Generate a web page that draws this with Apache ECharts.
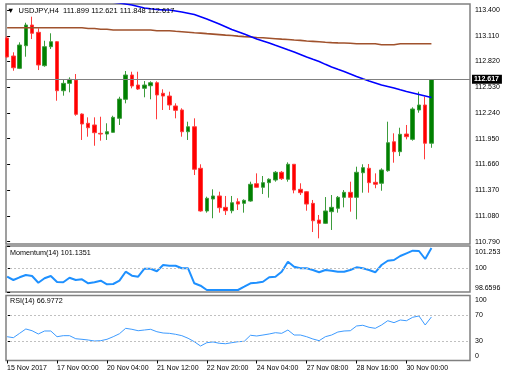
<!DOCTYPE html>
<html><head><meta charset="utf-8">
<script src="https://cdn.jsdelivr.net/npm/echarts@6/dist/echarts.min.js"></script>
<style>html,body{margin:0;padding:0;background:#fff}#c{width:526px;height:380px}</style>
</head><body><div id="c"></div>
<script>
const symbolTitle = 'USDJPY,H4';
const momentumTitle = 'Momentum(14) 101.1351';
const rsiTitle = 'RSI(14) 66.9772';

const timeTickIndex = [0, 8, 16, 24, 32, 40, 48, 56, 64];
const timeLabels = ['15 Nov 2017','17 Nov 00:00','20 Nov 04:00','21 Nov 12:00','22 Nov 20:00','24 Nov 04:00','27 Nov 08:00','28 Nov 16:00','30 Nov 00:00'];

const opens = [113.085,112.882,112.743,112.998,113.231,113.149,112.773,112.987,113.043,112.491,112.574,112.612,112.228,112.124,112.105,112.011,112.003,112.022,112.180,112.394,112.668,112.555,112.518,112.547,112.581,112.462,112.431,112.319,112.274,112.029,112.085,111.617,111.136,111.271,111.305,111.177,111.139,111.240,111.222,111.248,111.443,111.403,111.455,111.485,111.572,111.493,111.662,111.380,111.353,111.222,111.034,110.997,111.128,111.166,111.290,111.346,111.290,111.567,111.617,111.459,111.448,111.590,111.916,111.804,112.003,111.943,112.274,112.330,111.899];
const highs = [113.107,112.924,113.036,113.257,113.325,113.194,113.054,113.138,113.050,112.623,112.642,112.679,112.236,112.191,112.191,112.198,112.124,112.209,112.423,112.713,112.705,112.705,112.600,112.597,112.597,112.507,112.480,112.349,112.293,112.142,112.180,111.662,111.297,111.380,111.353,111.305,111.305,111.279,111.267,111.466,111.560,111.530,111.504,111.586,111.586,111.684,111.665,111.448,111.361,111.260,111.091,111.293,111.316,111.305,111.372,111.466,111.635,111.662,111.665,111.560,111.617,112.142,112.011,112.074,112.105,112.304,112.480,112.423,112.621];
const lows = [112.859,112.716,112.735,112.874,113.073,112.724,112.761,112.961,112.378,112.435,112.473,112.209,111.936,111.973,111.871,111.928,111.936,112.018,112.105,112.349,112.518,112.499,112.417,112.394,112.169,112.274,112.274,112.180,111.973,111.936,111.541,111.128,111.117,111.054,111.117,111.091,111.110,111.147,111.117,111.240,111.400,111.327,111.286,111.466,111.485,111.466,111.335,111.316,111.139,110.899,110.828,110.989,110.922,111.117,111.177,111.128,111.042,111.342,111.342,111.392,111.364,111.578,111.680,111.755,111.943,111.928,112.243,111.718,111.848];
const closes = [112.871,112.750,113.006,113.231,113.138,112.781,112.987,113.043,112.491,112.574,112.619,112.225,112.116,112.074,112.018,112.003,112.029,112.191,112.397,112.668,112.544,112.510,112.555,112.581,112.443,112.431,112.330,112.270,112.029,112.085,111.606,111.136,111.279,111.305,111.173,111.139,111.229,111.214,111.256,111.437,111.403,111.455,111.493,111.572,111.500,111.662,111.372,111.342,111.214,111.026,110.997,111.136,111.177,111.290,111.346,111.290,111.572,111.624,111.455,111.437,111.598,111.905,111.804,112.000,111.973,112.285,112.330,111.899,112.617];

const maBlue = [113.715,113.702,113.687,113.673,113.659,113.646,113.631,113.616,113.603,113.589,113.575,113.560,113.547,113.533,113.521,113.507,113.496,113.487,113.479,113.468,113.456,113.440,113.423,113.414,113.406,113.402,113.400,113.389,113.378,113.364,113.349,113.325,113.299,113.271,113.242,113.211,113.180,113.155,113.130,113.102,113.073,113.051,113.028,113.002,112.978,112.952,112.927,112.899,112.871,112.845,112.820,112.788,112.758,112.732,112.707,112.679,112.651,112.625,112.600,112.578,112.555,112.538,112.521,112.501,112.482,112.465,112.448,112.431,112.414];
const maBrown = [113.201,113.201,113.201,113.201,113.201,113.201,113.201,113.201,113.201,113.201,113.201,113.201,113.201,113.192,113.192,113.184,113.184,113.175,113.175,113.175,113.175,113.175,113.175,113.175,113.167,113.167,113.167,113.161,113.156,113.150,113.144,113.140,113.134,113.129,113.123,113.117,113.113,113.106,113.100,113.096,113.091,113.087,113.082,113.077,113.072,113.068,113.062,113.058,113.052,113.047,113.042,113.037,113.033,113.030,113.028,113.025,113.020,113.020,113.020,113.020,113.009,113.009,113.009,113.020,113.020,113.020,113.020,113.020,113.020];

const momentum = [99.522,99.336,99.488,99.618,99.562,99.184,99.432,99.562,99.223,99.206,99.466,99.336,99.376,99.150,99.206,99.297,99.094,99.111,99.297,99.804,99.579,99.522,99.973,99.973,99.827,100.182,100.142,100.142,99.996,99.996,99.150,99.015,98.772,98.772,98.772,98.772,98.772,98.772,98.958,99.150,99.184,99.240,99.488,99.522,99.804,100.368,100.086,99.996,99.996,99.900,99.770,99.900,99.860,99.804,99.804,99.900,100.052,99.996,99.900,99.770,100.182,100.424,100.464,100.689,100.841,100.988,100.971,100.520,101.135];
const rsi = [36.6,35.1,41.8,48.5,45.8,40.8,45.4,45.4,36.6,38.2,38.2,33.5,32.6,31.5,30.0,30.5,32.6,36.6,41.2,49.5,48.0,45.8,46.9,48.0,44.3,42.3,41.8,40.3,38.2,34.2,28.9,22.3,27.4,28.5,26.5,25.8,27.4,28.9,29.5,38.8,37.7,39.2,40.8,42.8,41.8,46.9,39.2,39.2,36.6,33.1,30.5,36.6,39.2,43.8,45.4,45.8,53.1,54.2,51.1,49.5,54.6,61.2,58.2,62.3,61.2,66.5,68.5,54.6,66.98];

const priceTicks = [110.790,111.080,111.370,111.660,111.950,112.240,112.530,112.820,113.110,113.400];
const bidPrice = 112.617;
const momentumTicks = [98.6596, 100, 101.253];
const momentumTickLabels = ['98.6596', '100', '101.253'];
const momentumLevel = 100;
const rsiTicks = [0, 30, 70, 100];
const rsiLevels = [30, 70];

const FONT = 'Liberation Sans';
const last = opens.length - 1;
const titleText = '\u25BC  ' + symbolTitle + '  ' + [opens[last], highs[last], lows[last], closes[last]].map(v => v.toFixed(3)).join(' ');

const candles = opens.map((o, i) => [i, o, closes[i], lows[i], highs[i]]);
const pair = arr => arr.map((v, i) => [i, v]);

const X_MIN = -0.18, X_MAX = 74.18;
function xAxis(gridIndex, show) {
  return {
    type: 'value', gridIndex, min: X_MIN, max: X_MAX,
    axisLine: { show: false }, splitLine: { show: false },
    axisTick: { show: show, length: 3, customValues: timeTickIndex, lineStyle: { color: '#000', width: 1 } },
    axisLabel: { show: show, customValues: timeTickIndex, align: 'left', margin: 4,
      fontSize: 7, color: '#000', fontFamily: FONT,
      formatter: v => timeLabels[timeTickIndex.indexOf(v)] }
  };
}
const ySide = { position: 'right', axisLine: { show: false }, splitLine: { show: false } };
const labelBase = { fontSize: 7, color: '#000', fontFamily: FONT, margin: 5 };
const gridBase = { show: true, left: 6, right: 56, borderColor: '#808080', borderWidth: 1.5, backgroundColor: 'transparent' };

const chart = echarts.init(document.getElementById('c'), null, { renderer: 'canvas' });
chart.setOption({
  animation: false,
  backgroundColor: '#fff',
  title: [
    { text: titleText, left: 7, top: 7, padding: 0, textStyle: { fontSize: 7.5, fontWeight: 'normal', color: '#000', fontFamily: FONT } },
    { text: momentumTitle, left: 10, top: 250, padding: 0, textStyle: { fontSize: 7.2, fontWeight: 'normal', color: '#000', fontFamily: FONT } },
    { text: rsiTitle, left: 10, top: 298, padding: 0, textStyle: { fontSize: 7.2, fontWeight: 'normal', color: '#000', fontFamily: FONT } }
  ],
  grid: [
    Object.assign({ top: 4, height: 240 }, gridBase),
    Object.assign({ top: 246, height: 46 }, gridBase),
    Object.assign({ top: 295.5, height: 65 }, gridBase)
  ],
  xAxis: [xAxis(0, false), xAxis(1, false), xAxis(2, true)],
  yAxis: [
    Object.assign({ type: 'value', gridIndex: 0, min: 110.764, max: 113.468,
      axisTick: { show: true, length: 3, customValues: priceTicks, lineStyle: { color: '#000' } },
      axisLabel: Object.assign({ customValues: priceTicks, formatter: v => v.toFixed(3) }, labelBase) }, ySide),
    Object.assign({ type: 'value', gridIndex: 1, min: 98.6596, max: 101.253,
      axisTick: { show: true, length: 3, customValues: momentumTicks, lineStyle: { color: '#000' } },
      axisLabel: Object.assign({ customValues: momentumTicks,
        formatter: v => {
          const k = momentumTicks.indexOf(v);
          const s = momentumTickLabels[k];
          return k === 0 ? '{b|' + s + '}' : k === momentumTicks.length - 1 ? '{t|' + s + '}' : '{n|' + s + '}';
        },
        rich: { t: { padding: [12, 0, 0, 0], fontSize: 7, fontFamily: FONT }, b: { padding: [0, 0, 8, 0], fontSize: 7, fontFamily: FONT }, n: { fontSize: 7, fontFamily: FONT } } }, labelBase) }, ySide),
    Object.assign({ type: 'value', gridIndex: 2, min: 0, max: 100,
      axisTick: { show: true, length: 3, customValues: [30, 70], lineStyle: { color: '#000' } },
      axisLabel: Object.assign({ customValues: rsiTicks,
        formatter: v => v === 100 ? '{t|100}' : v === 0 ? '{b|0}' : '{n|' + v + '}',
        rich: { t: { padding: [9, 0, 0, 0], fontSize: 7, fontFamily: FONT }, b: { padding: [0, 0, 9, 0], fontSize: 7, fontFamily: FONT }, n: { fontSize: 7, fontFamily: FONT } } }, labelBase) }, ySide)
  ],
  series: [
    {
      type: 'candlestick', xAxisIndex: 0, yAxisIndex: 0, data: candles, barWidth: 4, clip: true,
      itemStyle: { color: '#008000', color0: '#ff0000', borderColor: '#3c9c3c', borderColor0: '#ff3c3c', borderWidth: 1 },
      markLine: {
        silent: true, symbol: ['none', 'none'], animation: false,
        lineStyle: { color: '#808080', width: 1.2, type: 'solid' },
        label: { show: true, position: 'end', distance: 2, formatter: () => bidPrice.toFixed(3),
          backgroundColor: '#000', color: '#fff', fontSize: 7, fontWeight: 'bold', fontFamily: FONT, padding: [1, 3, 1, 2] },
        data: [{ yAxis: bidPrice }]
      }
    },
    { type: 'line', xAxisIndex: 0, yAxisIndex: 0, data: pair(maBrown), showSymbol: false, clip: true,
      lineStyle: { color: '#a0522d', width: 1.6 } },
    { type: 'line', xAxisIndex: 0, yAxisIndex: 0, data: pair(maBlue), showSymbol: false, clip: true,
      lineStyle: { color: '#0000ff', width: 1.6 } },
    { type: 'line', xAxisIndex: 1, yAxisIndex: 1, data: pair(momentum), showSymbol: false, clip: true,
      lineStyle: { color: '#1e90ff', width: 2 },
      markLine: { silent: true, symbol: ['none', 'none'], label: { show: false },
        lineStyle: { color: '#c0c0c0', width: 1, type: [2, 2] }, data: [{ yAxis: momentumLevel }] } },
    { type: 'line', xAxisIndex: 2, yAxisIndex: 2, data: pair(rsi), showSymbol: false, clip: true,
      lineStyle: { color: '#3d9bff', width: 1 },
      markLine: { silent: true, symbol: ['none', 'none'], label: { show: false },
        lineStyle: { color: '#c0c0c0', width: 1, type: [2, 2] }, data: rsiLevels.map(v => ({ yAxis: v })) } }
  ]
});
</script></body></html>
